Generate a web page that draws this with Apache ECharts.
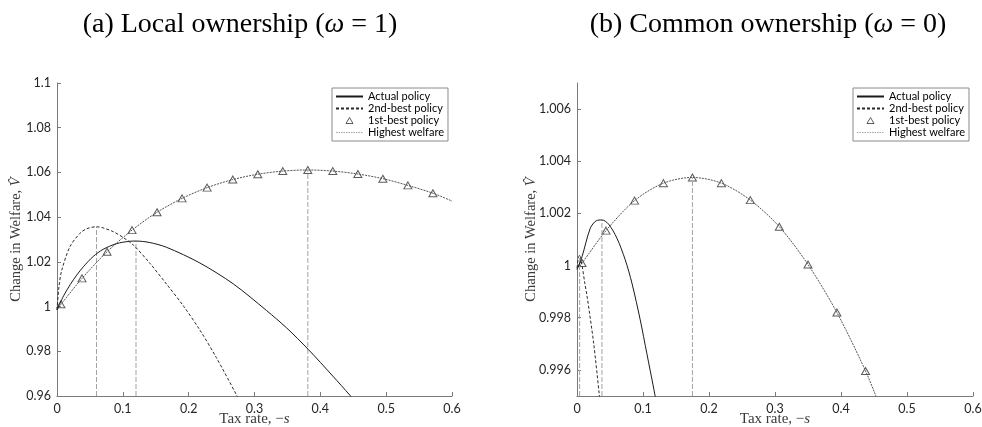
<!DOCTYPE html>
<html>
<head>
<meta charset="utf-8">
<script src="https://cdn.jsdelivr.net/npm/echarts@6/dist/echarts.min.js"></script>
<style>
  html, body { margin: 0; padding: 0; background: #fff; }
  #chart { width: 982px; height: 427px; }
</style>
</head>
<body>
<div id="chart"></div>
<script>
// ---- Panel (a): local ownership, omega = 1 ----
const actualTaxA = [0, 0.01, 0.02, 0.03, 0.04, 0.055, 0.07, 0.09, 0.11, 0.12, 0.14, 0.1665, 0.217, 0.268, 0.318, 0.349, 0.3815, 0.419, 0.4447, 0.46];
const actualWelA = [0.9985, 1.0048, 1.0098, 1.0141, 1.0178, 1.0224, 1.0256, 1.0281, 1.0292, 1.0293, 1.0287, 1.0265, 1.0195, 1.0101, 0.9983, 0.9904, 0.9809, 0.9689, 0.9604, 0.955];

const secondTaxA = [0, 0.003, 0.007, 0.0197, 0.035, 0.045, 0.06, 0.07, 0.0855, 0.1, 0.116, 0.141, 0.1665, 0.192, 0.217, 0.242, 0.2728, 0.28];
const secondWelA = [0.9985, 1.009, 1.016, 1.0268, 1.0328, 1.0348, 1.0357, 1.0352, 1.0335, 1.031, 1.0275, 1.0194, 1.01, 1.0003, 0.9895, 0.9772, 0.9604, 0.956];

const firstTaxA = [0, 0.006, 0.038, 0.076, 0.114, 0.152, 0.19, 0.228, 0.267, 0.305, 0.343, 0.381, 0.419, 0.457, 0.495, 0.533, 0.571, 0.6];
const firstWelA = [0.9985, 1.001, 1.0126, 1.0245, 1.0342, 1.0422, 1.0484, 1.0532, 1.0568, 1.0592, 1.0606, 1.0611, 1.0606, 1.0593, 1.0572, 1.0542, 1.0507, 1.0472];

// ---- Panel (b): common ownership, omega = 0 ----
const actualTaxB = [0, 0.0076, 0.0201, 0.0292, 0.0378, 0.0478, 0.0605, 0.0731, 0.0832, 0.0958, 0.1059, 0.115, 0.121, 0.125];
const actualWelB = [0.99984, 1.00034, 1.00143, 1.00172, 1.00175, 1.00159, 1.00105, 1.00022, 0.99933, 0.99792, 0.99662, 0.99545, 0.99465, 0.9941];

const secondTaxB = [0, 0.002, 0.004, 0.007, 0.012, 0.0151, 0.0252, 0.0337, 0.036];
const secondWelB = [0.9999, 1.0003, 1.0004, 1.0001, 0.9993, 0.99885, 0.99703, 0.99506, 0.9945];

const firstTaxB = [0, 0.0076, 0.0439, 0.0872, 0.131, 0.1749, 0.2188, 0.2626, 0.3065, 0.35, 0.3938, 0.4372, 0.46];
const firstWelB = [0.9999, 1.0001, 1.00134, 1.00249, 1.00316, 1.00338, 1.00316, 1.00251, 1.00149, 1.00004, 0.9982, 0.99596, 0.99453];

// Axis ranges and tick values
const yRangeA = [0.96, 1.1];
const yRangeB = [0.995, 1.007];
const yTicksB = [0.996, 0.998, 1, 1.002, 1.004, 1.006];
const xRange = [0, 0.6];

const zip = (xs, ys) => xs.map((x, i) => [x, ys[i]]);
// the 1st-best markers sit on the interior sample points of the curve
const markers = (xs, ys) => zip(xs, ys).slice(1, -1);
// vertical drop line from the axis floor up to the peak of a curve
function peakLine(xs, ys, floor) {
  let k = 0;
  ys.forEach((y, i) => { if (y > ys[k]) k = i; });
  return [[xs[k], floor], [xs[k], ys[k]]];
}

const AXIS_GRAY = '#7a7a7a';
const TICK_FONT = { fontFamily: 'Lato', fontSize: 12.5, color: '#262626' };
const SERIF = 'Liberation Serif';

function xAxisFor(idx) {
  return {
    gridIndex: idx, type: 'value', min: xRange[0], max: xRange[1], interval: 0.1,
    axisLine: { show: true, lineStyle: { color: AXIS_GRAY, width: 1 } },
    axisTick: { inside: true, length: 4, lineStyle: { color: AXIS_GRAY } },
    axisLabel: Object.assign({ margin: 6 }, TICK_FONT),
    splitLine: { show: false },
    name: 'Tax rate, \u2212{i|s}', nameLocation: 'middle', nameGap: 16, nameMoveOverlap: false,
    nameTextStyle: {
      fontFamily: SERIF, fontSize: 15, color: '#3a3a3a',
      rich: { i: { fontFamily: SERIF, fontSize: 15, fontStyle: 'italic', color: '#3a3a3a' } }
    }
  };
}

function yAxisFor(idx, range, extra, gap) {
  return Object.assign({
    gridIndex: idx, type: 'value', min: range[0], max: range[1],
    axisLine: { show: true, lineStyle: { color: AXIS_GRAY, width: 1 } },
    axisTick: { inside: true, length: 4, lineStyle: { color: AXIS_GRAY } },
    axisLabel: Object.assign({ margin: 6 }, TICK_FONT),
    splitLine: { show: false },
    name: 'Change in Welfare, {i|V\u0302}', nameLocation: 'middle', nameGap: gap, nameRotate: 90, nameMoveOverlap: false,
    nameTextStyle: {
      fontFamily: SERIF, fontSize: 14.5, color: '#3a3a3a',
      rich: { i: { fontFamily: SERIF, fontSize: 14.5, fontStyle: 'italic', color: '#3a3a3a' } }
    }
  }, extra);
}

const V_STYLE = { color: '#a3a3a3', width: 1, type: [5, 2] };
const V_LEGEND_STYLE = { color: '#a3a3a3', width: 1, type: [1.5, 1] };

function panelSeries(idx, d, floor) {
  const lineBase = { type: 'line', xAxisIndex: idx, yAxisIndex: idx, symbol: 'none', smooth: 0.3, clip: true, silent: true, animation: false };
  return [
    Object.assign({}, lineBase, { name: 'Highest welfare', data: peakLine(d.sx, d.sy, floor), smooth: false, lineStyle: V_STYLE, itemStyle: { color: '#a3a3a3' } }),
    Object.assign({}, lineBase, { name: 'Highest welfare', data: peakLine(d.ax, d.ay, floor), smooth: false, lineStyle: V_STYLE, itemStyle: { color: '#a3a3a3' } }),
    Object.assign({}, lineBase, { name: 'Highest welfare', data: peakLine(d.fx, d.fy, floor), smooth: false, lineStyle: V_STYLE, itemStyle: { color: '#a3a3a3' } }),
    Object.assign({}, lineBase, { name: '1st-best curve', data: zip(d.fx, d.fy), lineStyle: { color: '#555', width: 1, type: [2, 1] }, itemStyle: { color: '#555' } }),
    Object.assign({}, lineBase, { name: 'Actual policy', data: zip(d.ax, d.ay), lineStyle: { color: '#1a1a1a', width: 1 }, itemStyle: { color: '#1a1a1a' } }),
    Object.assign({}, lineBase, { name: '2nd-best policy', data: zip(d.sx, d.sy), lineStyle: { color: '#2a2a2a', width: 1, type: [3, 2] }, itemStyle: { color: '#2a2a2a' } }),
    {
      type: 'scatter', name: '1st-best policy', xAxisIndex: idx, yAxisIndex: idx,
      data: markers(d.fx, d.fy), symbol: 'triangle', symbolSize: [8, 7], silent: true, animation: false,
      itemStyle: { color: 'rgba(255,255,255,0)', borderColor: '#333', borderWidth: 1 }
    }
  ];
}

// legend entries: plain line samples, and a small open triangle for the markers
const hiddenSymbol = { opacity: 0 };
const legendItems = [
  { name: 'Actual policy', itemStyle: hiddenSymbol },
  { name: '2nd-best policy', itemStyle: hiddenSymbol },
  { name: '1st-best policy', icon: 'path://M0,0M27,9M10,7.5L13.5,1.5L17,7.5Z',
    itemStyle: { color: 'rgba(255,255,255,0)', borderColor: '#333', borderWidth: 1 } },
  { name: 'Highest welfare', itemStyle: hiddenSymbol, lineStyle: V_LEGEND_STYLE }
];

function legendFor(left) {
  return {
    left: left, top: 88, orient: 'vertical', data: legendItems, selectedMode: false,
    backgroundColor: '#fff', borderColor: '#8a8a8a', borderWidth: 1, borderRadius: 0,
    padding: [3, 4, 3, 3], itemGap: 1, itemWidth: 27, itemHeight: 9,
    textStyle: { fontFamily: 'Lato', fontSize: 11, color: '#000' }
  };
}

const titleStyle = (txt) => ({
  text: txt, fontFamily: SERIF, fontSize: 28, fill: '#000', align: 'center', verticalAlign: 'middle',
  rich: { i: { fontFamily: SERIF, fontSize: 28, fontStyle: 'italic', fill: '#000' } }
});

const chart = echarts.init(document.getElementById('chart'), null, { renderer: 'canvas' });
chart.setOption({
  animation: false,
  backgroundColor: '#fff',
  graphic: [
    { type: 'text', x: 240, y: 25, style: titleStyle('(a) Local ownership ({i|\u03c9} = 1)') },
    { type: 'text', x: 768, y: 25, style: titleStyle('(b) Common ownership ({i|\u03c9} = 0)') }
  ],
  grid: [
    { left: 57, top: 83, width: 395, height: 313, outerBoundsMode: 'none', containLabel: false },
    { left: 577, top: 83, width: 396, height: 313, outerBoundsMode: 'none', containLabel: false }
  ],
  legend: [legendFor(332), legendFor(853)],
  xAxis: [xAxisFor(0), xAxisFor(1)],
  yAxis: [
    yAxisFor(0, yRangeA, { interval: 0.02 }, 33),
    yAxisFor(1, yRangeB, {
      axisLabel: Object.assign({ margin: 6, customValues: yTicksB }, TICK_FONT),
      axisTick: { inside: true, length: 4, lineStyle: { color: AXIS_GRAY }, customValues: yTicksB }
    }, 38)
  ],
  series: [].concat(
    panelSeries(0, { ax: actualTaxA, ay: actualWelA, sx: secondTaxA, sy: secondWelA, fx: firstTaxA, fy: firstWelA }, yRangeA[0]),
    panelSeries(1, { ax: actualTaxB, ay: actualWelB, sx: secondTaxB, sy: secondWelB, fx: firstTaxB, fy: firstWelB }, yRangeB[0])
  )
});
</script>
</body>
</html>
